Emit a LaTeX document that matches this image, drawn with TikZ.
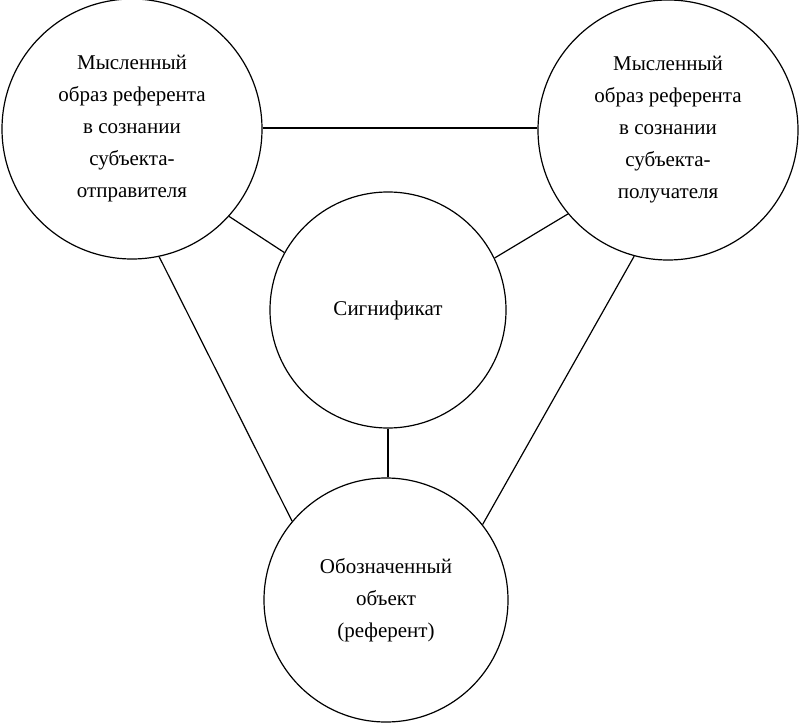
\documentclass[tikz,border=0pt]{standalone}
\usepackage{fontspec}
\setmainfont{Liberation Serif}
\usetikzlibrary{positioning}
\tikzset{
  krug/.style={draw, circle, line width=1.2pt, align=center, inner sep=0pt,
    font=\fontsize{21}{32}\selectfont},
  svyaz/.style={line width=1.2pt}
}
\begin{document}
\begin{tikzpicture}[x=1pt,y=-1pt]
  \useasboundingbox (0,0) rectangle (800,727);
  % krugi
  \node[krug, minimum size=260pt] (otpr) at (132,129) {Мысленный\\образ референта\\в сознании\\субъекта-\\отправителя};
  \node[krug, minimum size=260pt] (polu) at (668,130) {Мысленный\\образ референта\\в сознании\\субъекта-\\получателя};
  \node[krug, minimum size=236pt] (sign) at (388,310) {Сигнификат};
  \node[krug, minimum size=244pt] (refr) at (386,600) {Обозначенный\\объект\\(референт)};
  % svyazi
  \draw[svyaz] (otpr.east |- 0,128) -- (polu.west |- 0,128);
  \draw[svyaz] (otpr.-42) -- (sign.151);
  \draw[svyaz] (polu.220) -- (sign.26.6);
  \draw[svyaz] (otpr.-78) -- (refr.140);
  \draw[svyaz] (polu.-105) -- (refr.38);
  \draw[svyaz] (sign.south) -- (sign.south |- refr.north);
\end{tikzpicture}
\end{document}
